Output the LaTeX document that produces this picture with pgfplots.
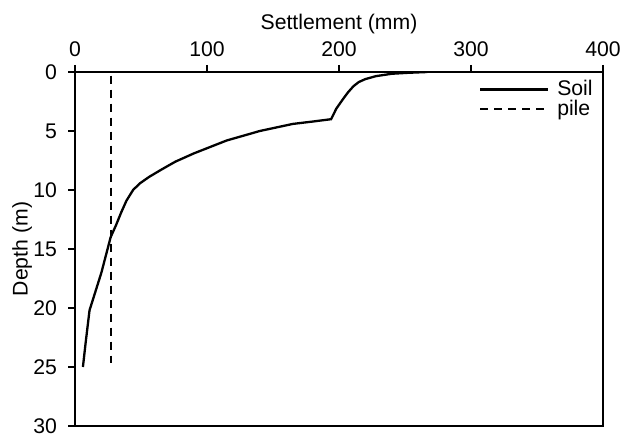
\documentclass[border=0pt]{standalone}
\usepackage{fontspec}
\setmainfont{Liberation Sans}
\usepackage{pgfplots}
\pgfplotsset{compat=1.18}

\begin{document}
\begin{tikzpicture}[x=1pt,y=1pt]
% fixed canvas around the 264pt x 177pt plot box
\path[use as bounding box] (-37.5,-6) rectangle (274.5,213);
\begin{axis}[
  at={(0,0)}, anchor=south west,
  scale only axis,
  width=264pt, height=177pt,
  font=\fontsize{10.6pt}{12pt}\selectfont,
  xmin=0, xmax=400, ymin=0, ymax=30,
  y dir=reverse,
  xtick={0,100,...,400},
  ytick={0,5,...,30},
  xtick pos=right, xticklabel pos=right,
  ytick pos=left,
  tick align=outside,
  major tick length=3.5pt,
  every tick/.style={black, line width=1pt},
  axis line style={line width=1.4pt},
  /pgf/number format/assume math mode=true,
  xlabel={Settlement (mm)},
  ylabel={Depth (m)},
  xlabel style={at={(axis description cs:0.5,1)}, anchor=south, yshift=15.5pt},
  ylabel style={at={(axis description cs:0,0.5)}, anchor=south, yshift=18pt},
  xticklabel style={yshift=0.5pt},
  yticklabel style={xshift=-2pt},
  legend style={draw=none, fill=none, at={(axis description cs:1.0,1.0)},
    anchor=north east, row sep=-3.3pt, column sep=2pt,
    font=\fontsize{10.6pt}{12pt}\selectfont},
  legend cell align=left,
  legend image code/.code={\draw[#1] (0pt,0pt) -- (34pt,0pt);},
]
\addplot[black, line width=1.15pt] coordinates {
  (267,0) (252,0.07) (240,0.15) (228,0.35) (220,0.6) (215,0.85) (211,1.2)
  (207,1.7) (203,2.3) (198,3.1) (194,4.0)
  (180,4.2) (165,4.4) (140,5.0) (115,5.8) (90,6.9) (76,7.6) (65,8.3)
  (56,8.9) (49,9.45) (44,10.0) (39,10.9) (35,11.9) (31,13.0) (27,14.0)
  (20,17.0) (11,20.2) (8,23.0) (6,25.0)
};
\addlegendentry{Soil}
\addplot[black, line width=1.15pt, dash pattern=on 4pt off 3pt] coordinates {
  (27.5,0.3) (27.5,24.7)
};
\addlegendentry{pile}
\end{axis}
\end{tikzpicture}
\end{document}
